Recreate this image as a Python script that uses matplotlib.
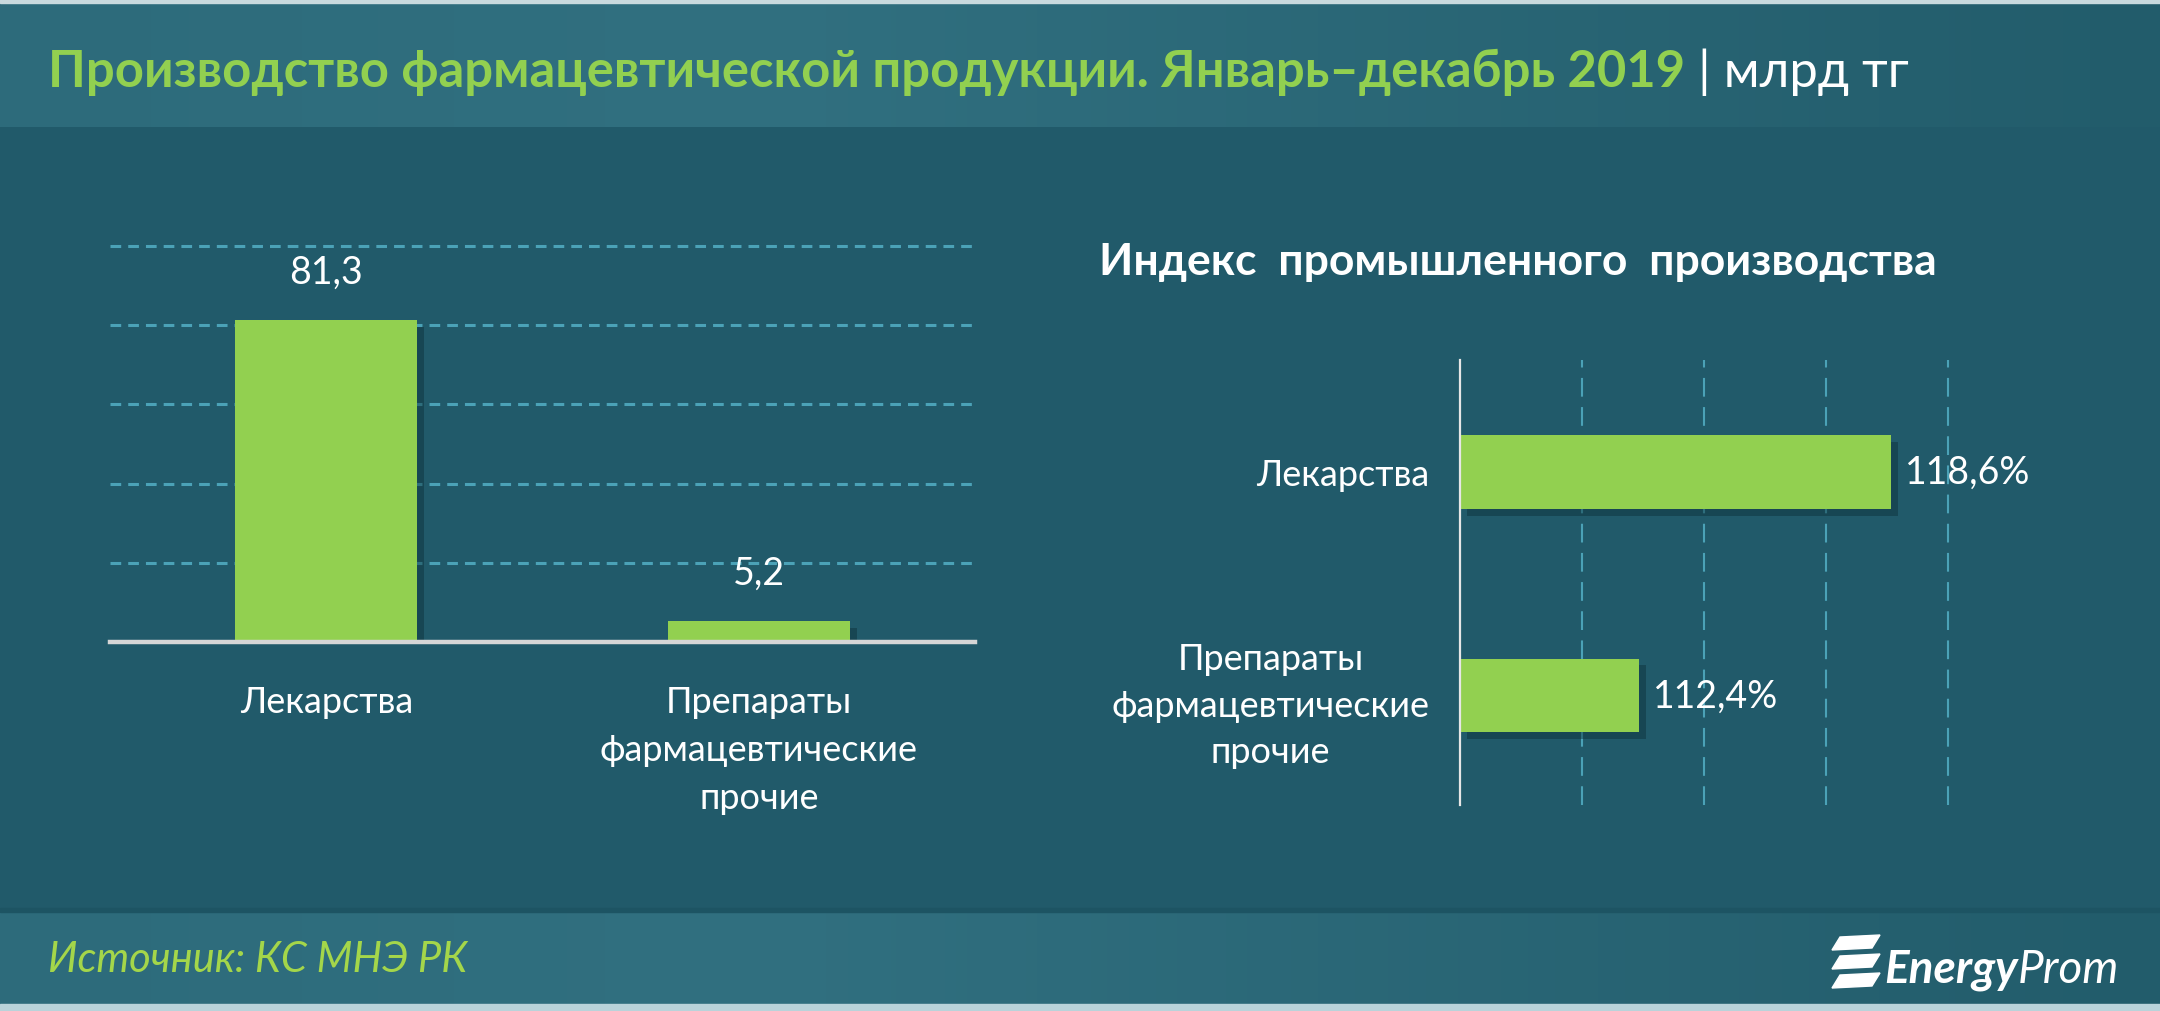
import matplotlib
matplotlib.use("Agg")
import matplotlib.pyplot as plt
import numpy as np
from matplotlib.patches import Rectangle, Polygon
import matplotlib.patheffects as pe

plt.rcParams['font.family'] = ['Lato', 'DejaVu Sans']

# ---------------- data ----------------
title_main = "Производство фармацевтической продукции. Январь–декабрь 2019"
title_unit = " | млрд тг"
source_text = "Источник: КС МНЭ РК"
logo_text_bold = "Energy"
logo_text_reg = "Prom"

prod_categories = ["Лекарства", "Препараты\nфармацевтические\nпрочие"]
prod_values = [81.3, 5.2]
prod_labels = ["81,3", "5,2"]
prod_grid = [20, 40, 60, 80, 100]

index_title = "Индекс  промышленного  производства"
index_categories = ["Лекарства", "Препараты\nфармацевтические\nпрочие"]
index_values = [118.6, 112.4]
index_labels = ["118,6%", "112,4%"]
index_grid = [111, 114, 117, 120]
index_min = 108

# ---------------- style ----------------
W, H, DPI = 2160, 1012, 100
BODY = '#215a6a'
GREEN = '#92d050'
TITLE_GREEN = '#92d050'
SRC_GREEN = '#a4d64a'
GRID = '#4ba2b7'
WHITE = '#ffffff'

fig = plt.figure(figsize=(W / DPI, H / DPI), dpi=DPI)
fig.patch.set_facecolor(BODY)

# background axes in pixel coordinates
bg = fig.add_axes([0, 0, 1, 1], zorder=-10)
bg.axis('off')
bg.add_patch(Rectangle((0, 0), W, H, color=BODY, zorder=0))

def band_gradient(y0, y1):
    xs = np.linspace(0, 1, 400)
    c_left = np.array([0x2d, 0x6b, 0x7b]) / 255
    c_mid = np.array([0x31, 0x70, 0x80]) / 255
    c_right = np.array([0x22, 0x5c, 0x6b]) / 255
    cols = np.zeros((1, len(xs), 3))
    for i, t in enumerate(xs):
        if t < 0.35:
            cols[0, i] = c_left + (c_mid - c_left) * (t / 0.35)
        else:
            cols[0, i] = c_mid + (c_right - c_mid) * ((t - 0.35) / 0.65)
    bg.imshow(cols, extent=(0, W, y1, y0), aspect='auto', zorder=1)

band_gradient(0, 128)
band_gradient(913, 1005)
bg.add_patch(Rectangle((0, 0), W, 4, color='#c9dade', zorder=2))
bg.add_patch(Rectangle((0, 1005), W, 7, color='#b9d3da', zorder=2))
bg.add_patch(Rectangle((0, 909), W, 4, color='#1d5463', zorder=2))
bg.set_xlim(0, W)
bg.set_ylim(H, 0)

# logo stripes
for k in range(3):
    y0 = 936 + k * 19
    bg.add_patch(Polygon([(1832, y0 + 15), (1872, y0 + 13), (1880, y0), (1840, y0 + 2)],
                         closed=True, color=WHITE, zorder=3))

# ---------------- titles ----------------
t1 = fig.text(48 / W, 1 - 72 / H, title_main, color=TITLE_GREEN, fontsize=36.5,
              fontweight='bold', ha='left', va='center')
fig.canvas.draw()
bb = t1.get_window_extent()
fig.text(bb.x1 / W, 1 - 72 / H, title_unit, color=WHITE, fontsize=36.5,
         ha='left', va='center')

fig.text(48 / W, 1 - 960 / H, source_text, color=SRC_GREEN, fontsize=30,
         style='italic', ha='left', va='center')
t2 = fig.text(1884 / W, 1 - 970 / H, logo_text_bold, color=WHITE, fontsize=33,
              style='italic', fontweight='bold', ha='left', va='center')
fig.canvas.draw()
bb2 = t2.get_window_extent()
fig.text(bb2.x1 / W, 1 - 970 / H, logo_text_reg, color=WHITE, fontsize=33,
         style='italic', ha='left', va='center')

fig.text(1518 / W, 1 - 262 / H, index_title, color=WHITE, fontsize=32,
         fontweight='bold', ha='center', va='center')

shadow = [pe.withSimplePatchShadow(offset=(5, -5), shadow_rgbFace='#0c2f38', alpha=0.45)]

# ---------------- left chart ----------------
ytop = 102
px_per = (643 - 247) / 100
top_px = 643 - ytop * px_per
ax1 = fig.add_axes([110 / W, 1 - 643 / H, 865 / W, (643 - top_px) / H])
ax1.set_facecolor('none')
x = np.arange(len(prod_values))
bars = ax1.bar(x, prod_values, width=0.42, color=GREEN, zorder=3)
for b in bars:
    b.set_path_effects(shadow)
ax1.set_xlim(-0.5, 1.5)
ax1.set_ylim(0, ytop)
ax1.set_yticks(prod_grid)
ax1.yaxis.grid(True, color=GRID, lw=2.2, linestyle=(0, (3.5, 2.3)))
ax1.set_axisbelow(True)
ax1.tick_params(axis='y', length=0, labelleft=False)
ax1.set_xticks(x, prod_categories)
ax1.tick_params(axis='x', length=0, pad=31, labelcolor=WHITE, labelsize=26)
for lab in ax1.get_xticklabels():
    lab.set_linespacing(1.55)
    lab.set_va('top')
for s in ['top', 'left', 'right']:
    ax1.spines[s].set_visible(False)
ax1.spines['bottom'].set_color('#d6d6d6')
ax1.spines['bottom'].set_linewidth(3.2)
ax1.spines['bottom'].set_zorder(4)
for xi, v, lbl in zip(x, prod_values, prod_labels):
    ax1.annotate(lbl, (xi, v), xytext=(0, 35), textcoords='offset points',
                 ha='center', va='center', color=WHITE, fontsize=27)

# ---------------- right chart ----------------
xmax = 120.3
ppu = (1948 - 1460) / (120 - index_min)
right_px = 1460 + (xmax - index_min) * ppu
ax2 = fig.add_axes([1460 / W, 1 - 806 / H, (right_px - 1460) / W, (806 - 361) / H])
ax2.set_facecolor('none')
ypos = np.arange(len(index_values))[::-1]
hb = ax2.barh(ypos, np.array(index_values) - index_min, left=index_min, height=0.33,
              color=GREEN, zorder=3)
for b in hb:
    b.set_path_effects(shadow)
ax2.set_xlim(index_min, xmax)
ax2.set_ylim(-0.49, 1.5)
ax2.set_xticks(index_grid)
ax2.xaxis.grid(True, color=GRID, lw=1.5, linestyle=(0, (9, 5)))
ax2.set_axisbelow(True)
ax2.tick_params(axis='x', length=0, labelbottom=False)
ax2.set_yticks(ypos, index_categories)
ax2.tick_params(axis='y', length=0, pad=22, labelcolor=WHITE, labelsize=26)
for lab in ax2.get_yticklabels():
    lab.set_linespacing(1.5)
    lab.set_multialignment('center')
for s in ['top', 'bottom', 'right']:
    ax2.spines[s].set_visible(False)
ax2.spines['left'].set_color('#e6e6e6')
ax2.spines['left'].set_linewidth(1.6)
ax2.spines['left'].set_zorder(4)
for yi, v, lbl in zip(ypos, index_values, index_labels):
    ax2.annotate(lbl, (v, yi), xytext=(10, 0), textcoords='offset points',
                 ha='left', va='center', color=WHITE, fontsize=27)

fig.savefig('out.png', dpi=DPI, facecolor=fig.get_facecolor())
